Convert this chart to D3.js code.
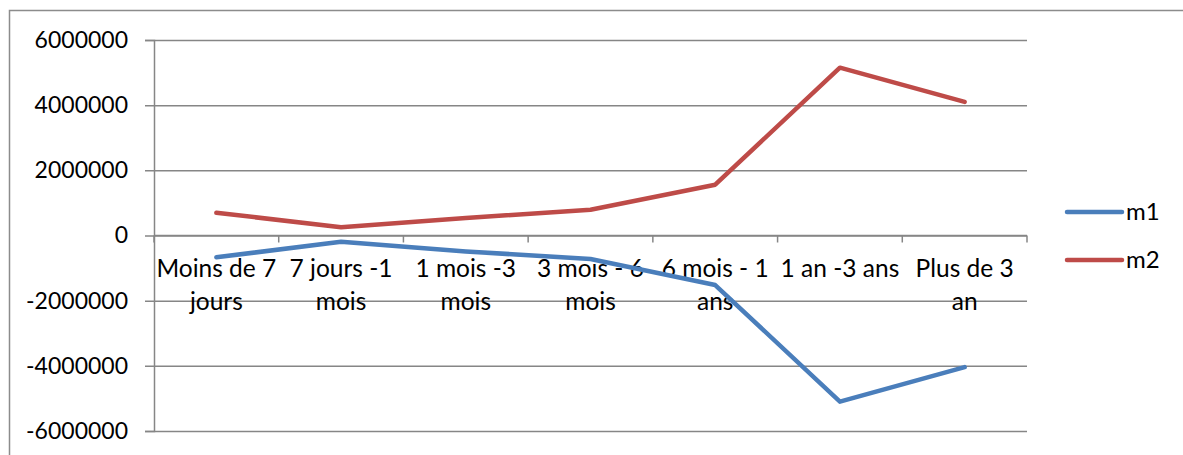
<!DOCTYPE html>
<html>
<head>
<meta charset="utf-8">
<script src="https://cdn.jsdelivr.net/npm/d3@7"></script>
<style>
    body { margin: 0; background: #fff; }
    svg text { font-family: Lato, "Open Sans", sans-serif; fill: #000; }
</style>
</head>
<body>
<div class="lineChart"></div>
<script>
// chart data
let categories = ['Moins de 7 jours', '7 jours -1 mois', '1 mois -3 mois', '3 mois - 6 mois',
    '6 mois - 1 ans', '1 an -3 ans', 'Plus de 3 an'];
let m1Values = [-670000, -190000, -490000, -720000, -1520000, -5100000, -4040000];
let m2Values = [700000, 250000, 540000, 790000, 1560000, 5150000, 4100000];
let yTicks = [-6000000, -4000000, -2000000, 0, 2000000, 4000000, 6000000];
let seriesNames = ['m1', 'm2'];

let chartColors = ['#4a7ebb', '#be4b48'];
let width = 1183, height = 455;
let plot = {left: 154, right: 1027, top: 40, bottom: 431};

let svg = d3.select('.lineChart').append('svg')
    .attr('width', width)
    .attr('height', height);

// outer frame (only top and left visible in the picture)
svg.append('path')
    .attr('d', 'M9.5,' + height + 'V10.5H' + width)
    .attr('fill', 'none')
    .attr('stroke', '#8c8c8c')
    .attr('stroke-width', 1.5);

let x = d3.scaleBand()
    .domain(categories)
    .range([plot.left, plot.right]);

let y = d3.scaleLinear()
    .domain([-6000000, 6000000])
    .range([plot.bottom, plot.top]);

// y axis with gridlines
let yAxisGroup = svg.append('g')
    .attr('transform', 'translate(' + plot.left + ',0)')
    .call(d3.axisLeft(y).tickValues(yTicks).tickSize(9).tickPadding(17).tickFormat(d => String(d)));
yAxisGroup.select('.domain')
    .attr('stroke', '#868686')
    .attr('stroke-width', 1.5);
yAxisGroup.selectAll('.tick line')
    .attr('x1', -9)
    .attr('x2', plot.right - plot.left)
    .attr('stroke', '#868686')
    .attr('stroke-width', 1.5);
yAxisGroup.selectAll('text')
    .attr('font-size', 23)
    .attr('font-family', 'Lato, sans-serif')
    .attr('fill', '#000');

// category axis at zero
let xAxisGroup = svg.append('g')
    .attr('transform', 'translate(0,' + y(0) + ')');
xAxisGroup.append('line')
    .attr('x1', plot.left).attr('x2', plot.right)
    .attr('stroke', '#868686').attr('stroke-width', 1.5);
let edges = categories.map(c => x(c)).concat([plot.right]);
xAxisGroup.selectAll('.edgeTick')
    .data(edges)
    .join('line')
    .attr('x1', d => d).attr('x2', d => d)
    .attr('y1', 0).attr('y2', 7)
    .attr('stroke', '#868686').attr('stroke-width', 1.5);

// wrapped category labels
let labels = xAxisGroup.selectAll('.catLabel')
    .data(categories)
    .join('text')
    .attr('class', 'catLabel')
    .attr('font-size', 24.5)
    .attr('text-anchor', 'middle')
    .attr('x', d => x(d) + x.bandwidth() / 2)
    .attr('y', 41);
labels.each(function(d) {
    let el = d3.select(this);
    let words = d.split(' ');
    let lines = [], line = [];
    let probe = el.append('tspan');
    words.forEach((w) => {
        let test = line.concat([w]).join(' ');
        probe.text(test);
        if (probe.node().getComputedTextLength() > x.bandwidth() - 2 && line.length) {
            lines.push(line.join(' '));
            line = [w];
        } else {
            line.push(w);
        }
    });
    lines.push(line.join(' '));
    probe.remove();
    lines.forEach((t, i) => {
        el.append('tspan')
            .attr('x', x(d) + x.bandwidth() / 2)
            .attr('dy', i === 0 ? 0 : 33)
            .text(t);
    });
});

// lines
let valueLine = d3.line()
    .x((d, i) => x(categories[i]) + x.bandwidth() / 2)
    .y(d => y(d));

[m1Values, m2Values].forEach((values, index) => {
    svg.append('path')
        .datum(values)
        .attr('d', valueLine)
        .attr('fill', 'none')
        .attr('stroke', chartColors[index])
        .attr('stroke-width', 4.5)
        .attr('stroke-linejoin', 'round')
        .attr('stroke-linecap', 'round');
});

// legend
let legend = svg.append('g').attr('transform', 'translate(1067,212)');
seriesNames.forEach((name, i) => {
    let row = legend.append('g').attr('transform', 'translate(0,' + (i * 48) + ')');
    row.append('line')
        .attr('x1', 0).attr('x2', 55)
        .attr('stroke', chartColors[i])
        .attr('stroke-width', 4.5)
        .attr('stroke-linecap', 'round');
    row.append('text')
        .attr('x', 59)
        .attr('y', 8)
        .attr('font-size', 24)
        .text(name);
});
</script>
</body>
</html>
